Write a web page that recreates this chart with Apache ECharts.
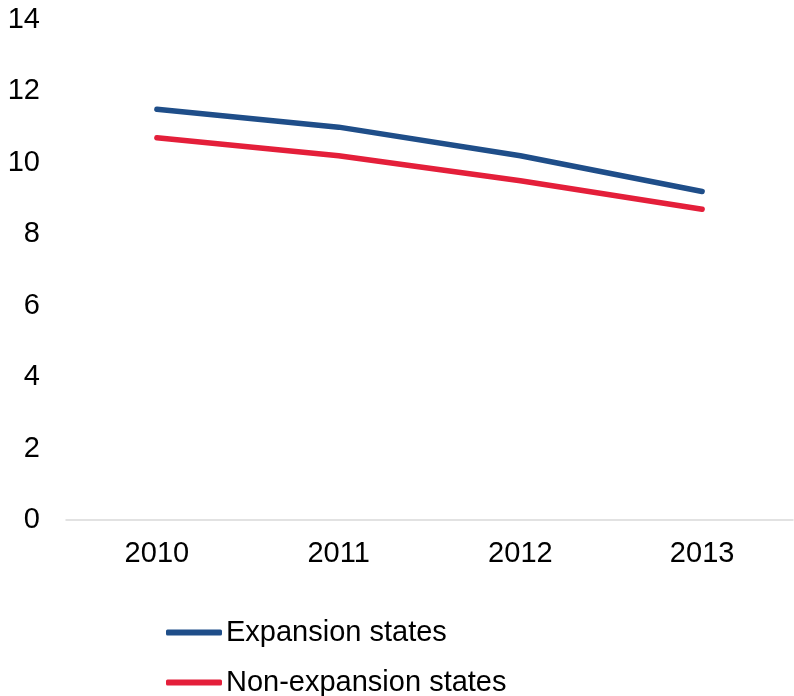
<!DOCTYPE html>
<html><head><meta charset="utf-8">
<script src="https://cdn.jsdelivr.net/npm/echarts@6/dist/echarts.min.js"></script>
<style>html,body{margin:0;padding:0;background:#fff}#c{width:794px;height:696px}</style>
</head><body><div id="c"></div>
<script>
const categories = ['2010', '2011', '2012', '2013'];
const expansion = [11.5, 11.0, 10.2, 9.2];
const nonExpansion = [10.7, 10.2, 9.5, 8.7];
const yTicks = [0, 2, 4, 6, 8, 10, 12, 14];
const seriesNames = ['Expansion states', 'Non-expansion states'];

const chart = echarts.init(document.getElementById('c'), null, {renderer: 'canvas'});
const font = 'Liberation Sans, Arial, sans-serif';
function legendAt(name, top) {
  return {
    orient: 'vertical', left: 166, top: top, padding: 0,
    itemWidth: 56, itemHeight: 6, icon: 'roundRect',
    textStyle: {color: '#000', fontSize: 29, fontFamily: font, padding: [0,0,0,-1]},
    data: [name]
  };
}
chart.setOption({
  animation: false,
  backgroundColor: '#ffffff',
  grid: {left: 66, width: 727, top: 20, height: 500, containLabel: false},
  xAxis: {
    type: 'category', data: categories, boundaryGap: true,
    axisLine: {lineStyle: {color: '#d9d9d9', width: 1.5}},
    axisTick: {show: false},
    axisLabel: {color: '#000', fontSize: 29, fontFamily: font, margin: 19}
  },
  yAxis: {
    type: 'value', min: yTicks[0], max: yTicks[yTicks.length - 1], interval: 2,
    axisLine: {show: false}, axisTick: {show: false}, splitLine: {show: false},
    axisLabel: {color: '#000', fontSize: 29, fontFamily: font, margin: 26}
  },
  legend: [legendAt(seriesNames[0], 618), legendAt(seriesNames[1], 668)],
  series: [
    {name: seriesNames[0], type: 'line', data: expansion, symbol: 'none',
     color: '#1f4e89', lineStyle: {width: 5.5, color: '#1f4e89', cap: 'round'}},
    {name: seriesNames[1], type: 'line', data: nonExpansion, symbol: 'none',
     color: '#e41f3a', lineStyle: {width: 5.5, color: '#e41f3a', cap: 'round'}}
  ]
});
</script></body></html>
